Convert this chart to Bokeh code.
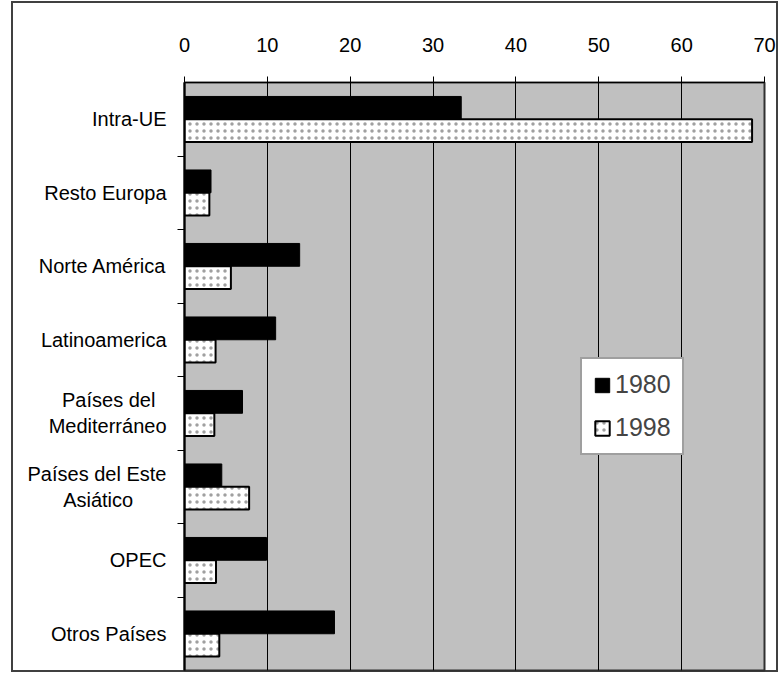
import numpy as np
from bokeh.plotting import figure
from bokeh.models import (FixedTicker, Range1d, Legend, LegendItem, ColumnDataSource)
from bokeh.transform import dodge
from bokeh.embed import file_html
from bokeh.resources import INLINE

NB = "\u00a0"
categories = ["Intra-UE", "Resto Europa", "Norte América", "Latinoamerica",
              "Países del\nMediterráneo", "Países del Este\nAsiático", "OPEC", "Otros Países"]
v1980 = [33.4, 3.2, 13.9, 11.0, 7.0, 4.5, 9.9, 18.1]
v1998 = [68.5, 3.0, 5.6, 3.75, 3.6, 7.8, 3.8, 4.2]
x_ticks = [0, 10, 20, 30, 40, 50, 60, 70]
series = ["1980", "1998"]

n = len(categories)
pos = (n - np.arange(n) - 0.5).tolist()   # category slot centres, first at top
src = ColumnDataSource(dict(cat=categories, pos=pos, a=v1980, b=v1998))

p = figure(width=767, height=671, y_range=Range1d(0, n),
           x_range=Range1d(0, 70), x_axis_location="above",
           output_backend="svg", toolbar_location=None,
           min_border_left=173, min_border_top=81, min_border_right=14, min_border_bottom=2,
           margin=(1, 0, 0, 11),
           styles={"outline": "2px solid #404040", "outline-offset": "-2px",
                   "box-shadow": "inset 0 0 0 2px #404040"})
p.background_fill_color = "#C0C0C0"
p.border_fill_color = "white"
p.border_fill_alpha = 0
p.outline_line_color = "#303030"
p.outline_line_width = 2

r1 = p.hbar(y=dodge("pos", 0.155), right="a", left=0, height=0.31,
            source=src, fill_color="black", line_color="black", line_width=1)
r2 = p.hbar(y=dodge("pos", -0.155), right="b", left=0, height=0.31,
            source=src, fill_color="white", line_color="black", line_width=2,
            hatch_pattern=".", hatch_color="#a0a0a0", hatch_scale=7, hatch_weight=1.2)

# x axis (top)
xa = p.xaxis[0]
xa.ticker = FixedTicker(ticks=x_ticks)
xa.major_tick_out = 6
xa.major_tick_in = 0
xa.minor_tick_out = 0
xa.minor_tick_in = 0
xa.major_label_standoff = 25
xa.major_label_text_font = "Liberation Sans"
xa.major_label_text_font_size = "20px"
xa.major_label_text_color = "black"
xa.axis_line_color = "black"
xa.major_tick_line_color = "black"

# y axis: labels at slot centres, ticks at slot boundaries
display = list(categories)
display[4] = "Países del" + NB * 2 + "\nMediterráneo"
display[5] = "Países del Este\n" + "Asiático" + NB * 6
ya = p.yaxis[0]
ya.ticker = FixedTicker(ticks=pos, minor_ticks=list(range(1, n)))
ya.major_label_overrides = {c: lab for c, lab in zip(pos, display)}
ya.major_tick_out = 0
ya.major_tick_in = 0
ya.minor_tick_out = 7
ya.minor_tick_in = 0
ya.minor_tick_line_color = "black"
ya.major_label_standoff = 11
ya.major_label_text_font = "Liberation Sans"
ya.major_label_text_font_size = "20px"
ya.major_label_text_color = "black"
ya.axis_line_color = "black"
ya.axis_line_width = 2

p.xgrid.grid_line_color = "black"
p.xgrid.grid_line_width = 1
p.xgrid.ticker = FixedTicker(ticks=x_ticks)
p.ygrid.grid_line_color = None

legend = Legend(items=[LegendItem(label=series[0], renderers=[r1]),
                       LegendItem(label=series[1], renderers=[r2])],
                location=(396, 215))
legend.label_text_font = "Liberation Sans"
legend.label_text_font_size = "25px"
legend.glyph_width = 18
legend.glyph_height = 18
legend.label_standoff = 4
legend.spacing = 14
legend.padding = 11
legend.margin = 0
legend.border_line_color = "#404040"
legend.border_line_width = 2
legend.background_fill_color = "white"
legend.background_fill_alpha = 1
p.add_layout(legend, "center")

open("out.html", "w").write(file_html(p, INLINE))
